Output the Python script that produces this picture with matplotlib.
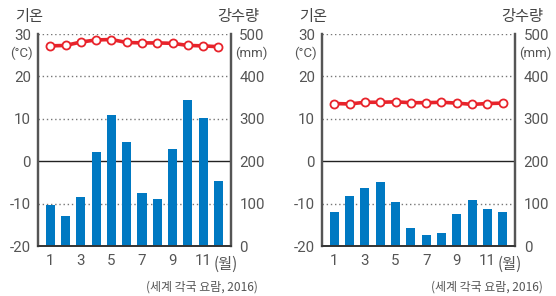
import matplotlib
matplotlib.use("Agg")
import matplotlib.pyplot as plt

plt.rcParams['font.family'] = ['Roboto', 'Noto Sans CJK KR', 'DejaVu Sans']

months = list(range(1, 13))
temp_a = [27.2, 27.3, 28.1, 28.6, 28.7, 28.0, 27.9, 27.9, 27.8, 27.3, 27.2, 27.0]
prec_a = [97, 71, 116, 222, 309, 245, 126, 111, 229, 344, 302, 153]
temp_b = [13.6, 13.5, 13.9, 13.9, 14.0, 13.8, 13.8, 13.9, 13.7, 13.4, 13.6, 13.7]
prec_b = [81, 118, 137, 152, 104, 42, 26, 31, 76, 108, 87, 81]

xticks = [1, 3, 5, 7, 9, 11]
temp_ticks = [-20, -10, 0, 10, 20, 30]
prec_ticks = [0, 100, 200, 300, 400, 500]
source = "(세계 각국 요람, 2016)"

TXT = "#555555"
RED = "#e8232b"
BLUE = "#0079c2"
KR = ['Noto Sans CJK KR', 'DejaVu Sans']
W, H = 556.0, 296.0

fig = plt.figure(figsize=(5.56, 2.96), dpi=100)

def fx(px):
    return px / W

def fy(py):
    return 1 - py / H

def panel(left_px, right_px, temps, precs, woll_px, src_px, gion_px, gsr_px):
    ax = fig.add_axes([fx(left_px), fy(246), fx(right_px - left_px), (246 - 34) / H])
    ax2 = ax.twinx()
    ax.set_zorder(ax2.get_zorder() + 1)
    ax.patch.set_visible(False)

    ax.set_xlim(0.2, 12.82)
    ax.set_ylim(-20, 30)
    ax2.set_ylim(0, 500)

    for v in [100, 300, 400, 500]:
        ax2.axhline(v, color="#777777", lw=1.0, ls=(0, (1, 2)), zorder=0)
    ax2.axhline(200, color="#222222", lw=1.0, zorder=0)
    ax2.bar(months, precs, width=0.6, color=BLUE, zorder=2)

    ax.plot(months, temps, color=RED, lw=2.6, marker="o", ms=5.8,
            mfc="white", mec=RED, mew=1.3, zorder=5, clip_on=False)

    for a in (ax, ax2):
        a.spines['top'].set_visible(False)
        for s in ('left', 'right'):
            a.spines[s].set_color("#555555")
            a.spines[s].set_linewidth(1.6)
        a.spines['bottom'].set_color("#333333")
        a.spines['bottom'].set_linewidth(1.2)
        a.tick_params(length=0, colors=TXT, labelsize=10.8)

    ax.set_yticks(temp_ticks)
    ax.set_yticklabels([str(t) for t in temp_ticks])
    ax.tick_params(axis='y', pad=5)
    ax2.set_yticks(prec_ticks)
    ax2.set_yticklabels([str(p) for p in prec_ticks])
    ax2.tick_params(axis='y', pad=6)
    ax.set_xticks(xticks)
    ax.set_xticklabels([str(m) for m in xticks])
    ax.tick_params(axis='x', pad=6)

    fig.text(fx(woll_px), fy(264), "(월)", color=TXT, fontsize=11, ha='left',
             va='center', family=KR)
    fig.text(fx(left_px - 5), fy(53), "(°C)", color=TXT, fontsize=9.5,
             ha='right', va='center')
    fig.text(fx(right_px + 4), fy(53), "(mm)", color=TXT, fontsize=9.5,
             ha='left', va='center')
    fig.text(fx(gion_px), fy(17), "기온", color="#444444", fontsize=11,
             ha='left', va='center', family=KR)
    fig.text(fx(gsr_px), fy(17), "강수량", color="#444444", fontsize=11,
             ha='right', va='center', family=KR)
    fig.text(fx(src_px), fy(287), source, color=TXT, fontsize=8.6,
             ha='right', va='center', family=KR)
    return ax, ax2

panel(38, 231, temp_a, prec_a, 214, 258, 15, 259)
panel(322, 515.3, temp_b, prec_b, 498, 543, 299, 543)

fig.savefig("out.png", dpi=100)
